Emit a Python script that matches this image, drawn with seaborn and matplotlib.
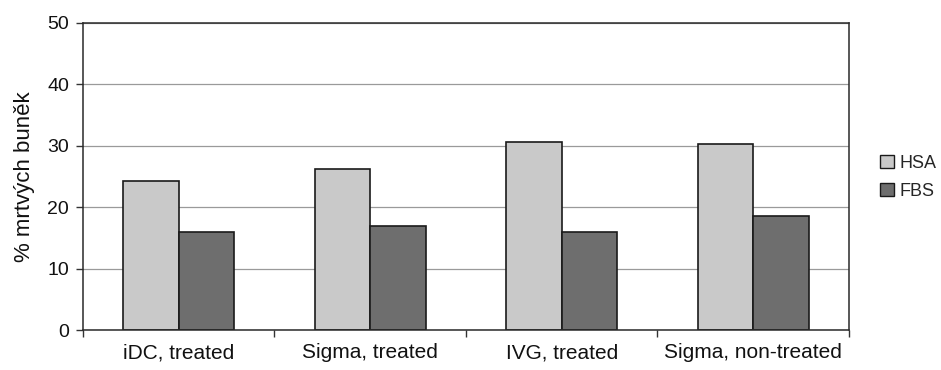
import matplotlib
matplotlib.use("Agg")
import matplotlib.pyplot as plt
import seaborn as sns
import pandas as pd
from matplotlib.patches import Patch

categories = ["iDC, treated", "Sigma, treated", "IVG, treated", "Sigma, non-treated"]
series = ["HSA", "FBS"]
hsa_values = [24.3, 26.2, 30.6, 30.3]
fbs_values = [16.0, 16.9, 15.9, 18.5]
y_ticks = [0, 10, 20, 30, 40, 50]
colors = {"HSA": "#c9c9c9", "FBS": "#6e6e6e"}

df = pd.DataFrame({
    "category": categories * 2,
    "serie": ["HSA"] * len(categories) + ["FBS"] * len(categories),
    "value": hsa_values + fbs_values,
})

sns.set_theme(style="white")
plt.rcParams["font.family"] = ["Liberation Sans", "DejaVu Sans"]

fig = plt.figure(figsize=(9.41, 3.70), dpi=100)
ax = fig.add_axes([0.0882, 0.108, 0.814, 0.830])

sns.barplot(data=df, x="category", y="value", hue="serie", order=categories,
            hue_order=series, palette=colors, width=0.58, ax=ax,
            edgecolor="#1a1a1a", linewidth=1.2, legend=False, saturation=1)

ax.set_ylim(0, 50)
ax.set_xlim(-0.5, len(categories) - 0.5)
ax.set_yticks(y_ticks)
ax.yaxis.grid(True, color="#9a9a9a", linewidth=0.9)
ax.set_axisbelow(True)

# category separators as outward tick marks
ax.set_xticks([i - 0.5 for i in range(len(categories) + 1)], minor=True)
ax.tick_params(axis="x", which="minor", length=5, width=1, color="#333333", direction="out", bottom=True)
ax.tick_params(axis="x", which="major", length=0, pad=9.5, labelsize=15, labelcolor="#111111")
ax.tick_params(axis="y", which="major", length=5, width=1, color="#333333", direction="out", left=True,
               labelsize=14, labelcolor="#111111", pad=5)

for s in ax.spines.values():
    s.set_visible(True)
    s.set_color("#2a2a2a")
    s.set_linewidth(1.1)

ax.set_xlabel("")
ax.set_ylabel("% mrtvých buněk", fontsize=16, color="#111111", labelpad=9)

handles = [Patch(facecolor=colors[s], edgecolor="#1a1a1a", linewidth=1.0, label=s) for s in series]
fig.legend(handles=handles, loc="center left", bbox_to_anchor=(0.928, 0.52), frameon=False,
           fontsize=13, handlelength=0.75, handleheight=0.75, handletextpad=0.3, labelspacing=0.6,
           borderaxespad=0)

fig.savefig("out.png", dpi=100, facecolor="white")
